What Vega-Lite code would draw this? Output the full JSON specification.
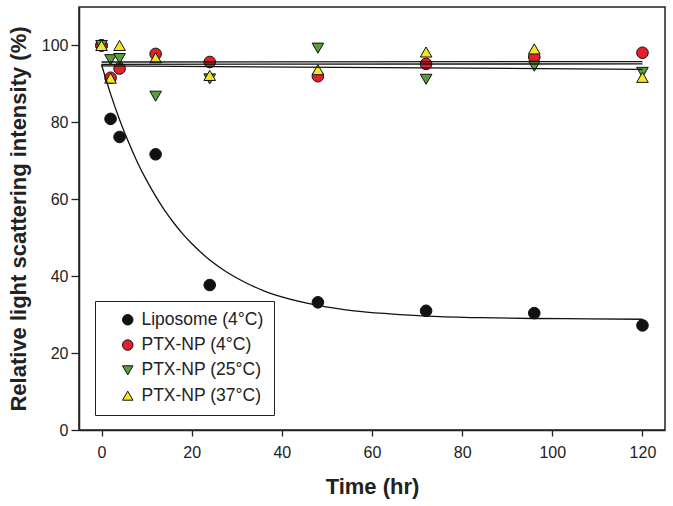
{
  "$schema": "https://vega.github.io/schema/vega-lite/v6.json",
  "width": 586,
  "height": 423,
  "autosize": {"type": "none"},
  "padding": {"left": 79, "top": 7, "right": 8, "bottom": 76},
  "background": "white",
  "config": {
    "font": "Liberation Sans",
    "view": {"stroke": "#222", "strokeWidth": 1.5},
    "axis": {"grid": false, "domainColor": "#222", "domainWidth": 1.5, "tickColor": "#222", "tickWidth": 1.3, "labelFont": "Liberation Sans", "titleFont": "Liberation Sans", "labelColor": "#222", "titleColor": "#222"},
    "legend": {"title": null, "orient": "none", "legendX": 16, "legendY": 294, "strokeColor": "#222", "fillColor": "white", "padding": 10, "symbolOffset": 14, "labelFontSize": 17.5, "labelColor": "#222", "rowPadding": 6.3, "symbolSize": 110, "symbolStrokeWidth": 1, "labelOffset": 5, "zindex": 5}
  },
  "datasets": {
    "pts": [
      {"t": 0, "v": 100, "s": "Liposome (4°C)"},
      {"t": 2, "v": 80.9, "s": "Liposome (4°C)"},
      {"t": 4, "v": 76.2, "s": "Liposome (4°C)"},
      {"t": 12, "v": 71.7, "s": "Liposome (4°C)"},
      {"t": 24, "v": 37.7, "s": "Liposome (4°C)"},
      {"t": 48, "v": 33.2, "s": "Liposome (4°C)"},
      {"t": 72, "v": 31.0, "s": "Liposome (4°C)"},
      {"t": 96, "v": 30.4, "s": "Liposome (4°C)"},
      {"t": 120, "v": 27.2, "s": "Liposome (4°C)"},
      {"t": 0, "v": 100, "s": "PTX-NP (4°C)"},
      {"t": 2, "v": 91.6, "s": "PTX-NP (4°C)"},
      {"t": 4, "v": 94.0, "s": "PTX-NP (4°C)"},
      {"t": 12, "v": 97.8, "s": "PTX-NP (4°C)"},
      {"t": 24, "v": 95.7, "s": "PTX-NP (4°C)"},
      {"t": 48, "v": 92.0, "s": "PTX-NP (4°C)"},
      {"t": 72, "v": 95.2, "s": "PTX-NP (4°C)"},
      {"t": 96, "v": 97.0, "s": "PTX-NP (4°C)"},
      {"t": 120, "v": 98.1, "s": "PTX-NP (4°C)"},
      {"t": 0, "v": 100, "s": "PTX-NP (25°C)"},
      {"t": 2, "v": 96.3, "s": "PTX-NP (25°C)"},
      {"t": 4, "v": 96.6, "s": "PTX-NP (25°C)"},
      {"t": 12, "v": 86.8, "s": "PTX-NP (25°C)"},
      {"t": 24, "v": 91.3, "s": "PTX-NP (25°C)"},
      {"t": 48, "v": 99.3, "s": "PTX-NP (25°C)"},
      {"t": 72, "v": 91.2, "s": "PTX-NP (25°C)"},
      {"t": 96, "v": 94.6, "s": "PTX-NP (25°C)"},
      {"t": 120, "v": 93.0, "s": "PTX-NP (25°C)"},
      {"t": 0, "v": 100, "s": "PTX-NP (37°C)"},
      {"t": 2, "v": 91.5, "s": "PTX-NP (37°C)"},
      {"t": 4, "v": 100, "s": "PTX-NP (37°C)"},
      {"t": 12, "v": 96.8, "s": "PTX-NP (37°C)"},
      {"t": 24, "v": 92.2, "s": "PTX-NP (37°C)"},
      {"t": 48, "v": 93.7, "s": "PTX-NP (37°C)"},
      {"t": 72, "v": 98.3, "s": "PTX-NP (37°C)"},
      {"t": 96, "v": 99.1, "s": "PTX-NP (37°C)"},
      {"t": 120, "v": 91.7, "s": "PTX-NP (37°C)"}
    ],
    "fits": [
      {"t": 0, "v": 95.0, "s": "lip"},
      {"t": 2, "v": 87.4, "s": "lip"},
      {"t": 4, "v": 80.7, "s": "lip"},
      {"t": 6, "v": 74.8, "s": "lip"},
      {"t": 8, "v": 69.5, "s": "lip"},
      {"t": 10, "v": 64.9, "s": "lip"},
      {"t": 12, "v": 60.8, "s": "lip"},
      {"t": 14, "v": 57.1, "s": "lip"},
      {"t": 16, "v": 53.9, "s": "lip"},
      {"t": 18, "v": 51.0, "s": "lip"},
      {"t": 20, "v": 48.5, "s": "lip"},
      {"t": 24, "v": 44.2, "s": "lip"},
      {"t": 28, "v": 40.9, "s": "lip"},
      {"t": 32, "v": 38.3, "s": "lip"},
      {"t": 36, "v": 36.2, "s": "lip"},
      {"t": 40, "v": 34.6, "s": "lip"},
      {"t": 48, "v": 32.4, "s": "lip"},
      {"t": 56, "v": 31.0, "s": "lip"},
      {"t": 64, "v": 30.2, "s": "lip"},
      {"t": 72, "v": 29.6, "s": "lip"},
      {"t": 84, "v": 29.2, "s": "lip"},
      {"t": 96, "v": 29.0, "s": "lip"},
      {"t": 108, "v": 28.9, "s": "lip"},
      {"t": 120, "v": 28.8, "s": "lip"},
      {"t": 0, "v": 95.7, "s": "r"},
      {"t": 120, "v": 95.8, "s": "r"},
      {"t": 0, "v": 95.1, "s": "y"},
      {"t": 120, "v": 95.2, "s": "y"},
      {"t": 0, "v": 94.7, "s": "g"},
      {"t": 120, "v": 93.8, "s": "g"}
    ]
  },
  "layer": [
    {
      "data": {"name": "pts"},
      "mark": {"type": "point", "filled": true, "size": 135, "strokeWidth": 1, "opacity": 1},
      "encoding": {
        "x": {"field": "t", "type": "quantitative", "scale": {"domain": [-5, 125], "nice": false, "zero": false},
          "axis": {"title": "Time (hr)", "values": [0, 20, 40, 60, 80, 100, 120], "tickSize": 6, "labelFontSize": 16, "labelPadding": 8, "titleFontSize": 22, "titleFontWeight": "bold", "titlePadding": 16}},
        "y": {"field": "v", "type": "quantitative", "scale": {"domain": [0, 110], "nice": false},
          "axis": {"title": "Relative light scattering intensity (%)", "values": [0, 20, 40, 60, 80, 100], "tickSize": 8, "labelFontSize": 16, "labelPadding": 3, "titleFontSize": 22, "titleFontWeight": "bold", "titlePadding": 11}},
        "fill": {"field": "s", "type": "nominal", "sort": null,
          "scale": {"domain": ["Liposome (4°C)", "PTX-NP (4°C)", "PTX-NP (25°C)", "PTX-NP (37°C)"], "range": ["#111111", "#e3202b", "#5a9e3c", "#f2e524"]}},
        "stroke": {"field": "s", "type": "nominal", "sort": null,
          "scale": {"domain": ["Liposome (4°C)", "PTX-NP (4°C)", "PTX-NP (25°C)", "PTX-NP (37°C)"], "range": ["#111111", "#111111", "#111111", "#111111"]}},
        "shape": {"field": "s", "type": "nominal", "sort": null,
          "scale": {"domain": ["Liposome (4°C)", "PTX-NP (4°C)", "PTX-NP (25°C)", "PTX-NP (37°C)"], "range": ["circle", "circle", "triangle-down", "triangle-up"]}}
      }
    },
    {
      "data": {"name": "fits"},
      "mark": {"type": "line", "color": "#111", "strokeWidth": 1.3, "interpolate": "monotone"},
      "encoding": {
        "x": {"field": "t", "type": "quantitative"},
        "y": {"field": "v", "type": "quantitative"},
        "detail": {"field": "s", "type": "nominal"}
      }
    }
  ]
}
